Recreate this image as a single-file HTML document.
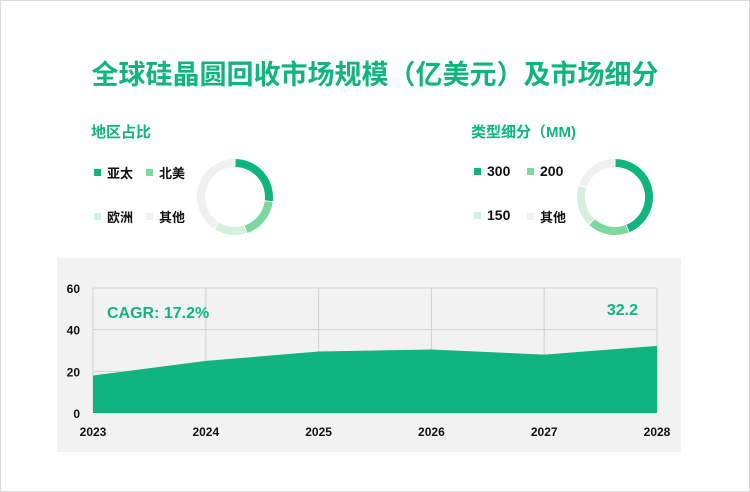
<!DOCTYPE html>
<html><head><meta charset="utf-8"><style>
body{margin:0;width:750px;height:492px;background:#fff;font-family:"Liberation Sans","Noto Sans CJK SC",sans-serif;position:relative;overflow:hidden}
.frame{position:absolute;left:0;top:0;width:748px;height:490px;border:1px solid #d9d9d9}
.t{position:absolute;white-space:nowrap}
.title{left:0;width:750px;text-align:center;top:53px;font-size:27px;font-weight:bold;color:#10b47e}
.sub{font-size:15px;font-weight:bold;color:#10b47e}
.leg{font-size:13px;color:#111;display:flex;align-items:center;font-weight:bold}
.leg i{display:inline-block;width:7px;height:7px;margin-right:6px}
</style></head><body>
<div class="frame"></div>
<div class="t title">全球硅晶圆回收市场规模（亿美元）及市场细分</div>
<div class="t sub" style="left:91px;top:121px">地区占比</div>
<div class="t sub" style="left:471px;top:121px">类型细分（MM)</div>
<div class="t leg" style="left:94px;top:163px"><i style="background:#10b47e"></i>亚太</div>
<div class="t leg" style="left:146px;top:163px"><i style="background:#7dd89d"></i>北美</div>
<div class="t leg" style="left:94px;top:207px"><i style="background:#d3f1de"></i>欧洲</div>
<div class="t leg" style="left:146px;top:207px"><i style="background:#f0f0f0"></i>其他</div>
<div class="t leg" style="left:474px;top:163px;font-size:14px"><i style="background:#10b47e"></i>300</div>
<div class="t leg" style="left:527px;top:163px;font-size:14px"><i style="background:#7dd89d"></i>200</div>
<div class="t leg" style="left:474px;top:207px;font-size:14px"><i style="background:#d3f1de"></i>150</div>
<div class="t leg" style="left:527px;top:207px"><i style="background:#f0f0f0"></i>其他</div>
<svg id="donuts" width="750" height="492" style="position:absolute;left:0;top:0"></svg>
<div style="position:absolute;left:57px;top:258px;width:624px;height:194px;background:#f2f2f2"></div>
<svg id="area" width="750" height="492" style="position:absolute;left:0;top:0"></svg>
<script>
const NS="http://www.w3.org/2000/svg";
const regionLabels=["亚太","北美","欧洲","其他"];
const regionValues=[27,18,14,41];
const typeLabels=["300","200","150","其他"];
const typeValues=[44,18,18,20];
const donutColors=["#10b47e","#7dd89d","#d3f1de","#f0f0f0"];
const years=["2023","2024","2025","2026","2027","2028"];
const marketValues=[18,25,29.5,30.5,28,32.2];
const yTicks=[0,20,40,60];

function mk(svg,tag,attrs){const e=document.createElementNS(NS,tag);for(const k in attrs)e.setAttribute(k,attrs[k]);svg.appendChild(e);return e;}
function donut(svg,cx,cy,vals,name){
  const tot=vals.reduce((a,b)=>a+b,0);let a0=0;const r=34,gap=0.03;
  vals.forEach((v,i)=>{
    const a1=a0+v/tot*2*Math.PI;
    const s=a0+gap/2,e=a1-gap/2;
    const x0=cx+r*Math.sin(s),y0=cy-r*Math.cos(s),x1=cx+r*Math.sin(e),y1=cy-r*Math.cos(e);
    const p=mk(svg,"path",{d:`M${x0} ${y0}A${r} ${r} 0 ${e-s>Math.PI?1:0} 1 ${x1} ${y1}`,fill:"none",stroke:donutColors[i],"stroke-width":8});
    
    
    a0=a1;
  });
}
const d=document.getElementById("donuts");
donut(d,235,197,regionValues,"region");
donut(d,615,197,typeValues,"type");

const s=document.getElementById("area");
const X0=93,X1=657,Y0=413,Y1=288;
const xs=i=>X0+(X1-X0)*i/(years.length-1);
const ys=v=>Y0-(Y0-Y1)*v/60;
yTicks.forEach(t=>{
  if(t>0){const g=mk(s,"line",{x1:X0,x2:X1,y1:ys(t),y2:ys(t),stroke:"#d0d0d0"});}
  const tx=mk(s,"text",{x:80,y:ys(t)+5,"text-anchor":"end","font-size":12,"font-weight":"bold",fill:"#111"});tx.textContent=t;
  
  
});
years.forEach((y,i)=>{
  const g=mk(s,"line",{x1:xs(i),x2:xs(i),y1:Y1,y2:Y0,stroke:"#d0d0d0"});
  
  
  const tx=mk(s,"text",{x:xs(i),y:436,"text-anchor":"middle","font-size":12,"font-weight":"bold",fill:"#111"});tx.textContent=y;
  
  
});
let pd=`M${xs(0)} ${Y0}`;marketValues.forEach((v,i)=>pd+=`L${xs(i)} ${ys(v)}`);pd+=`L${xs(marketValues.length-1)} ${Y0}Z`;
const ar=mk(s,"path",{d:pd,fill:"#10b47e"});


const c=mk(s,"text",{x:107,y:318,"font-size":16,"font-weight":"bold",fill:"#10b47e"});c.textContent="CAGR: 17.2%";


const lv=mk(s,"text",{x:638,y:315,"text-anchor":"end","font-size":16,"font-weight":"bold",fill:"#10b47e"});lv.textContent=marketValues[marketValues.length-1];


</script>
</body></html>
